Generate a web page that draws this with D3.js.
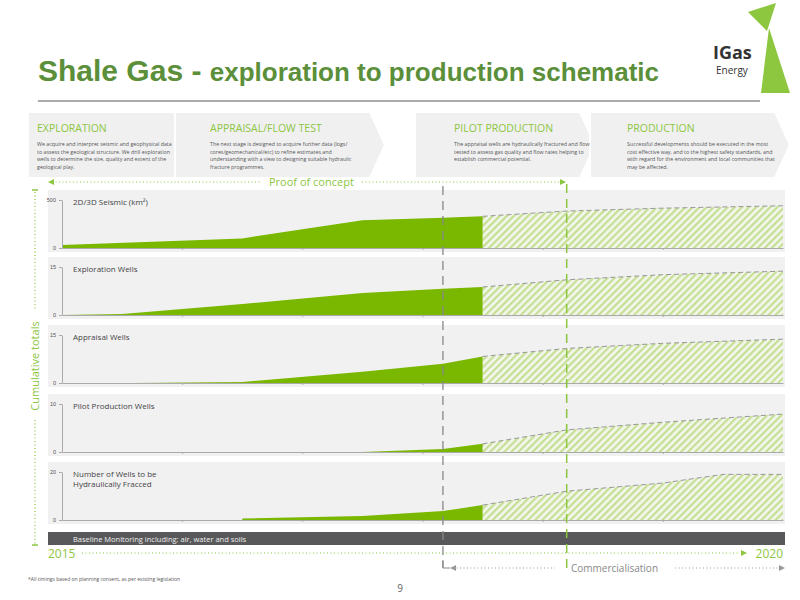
<!DOCTYPE html>
<html>
<head>
<meta charset="utf-8" />
<title>Shale Gas schematic</title>
<style>
  body { margin: 0; background: #fff; }
  svg { font-family: "Open Sans", "DejaVu Sans", sans-serif; }
</style>
</head>
<body>
<svg id="svg" width="800" height="600"></svg>
<script src="https://d3js.org/d3.v7.min.js"></script>
<script>
  // time in years from 2015 (0) to 2020 (6 ticks)
  const panels = ['2D/3D Seismic (km²)', 'Exploration Wells', 'Appraisal Wells', 'Pilot Production Wells', 'Number of Wells to be|Hydraulically Fracced']
  const maxima = [500, 15, 15, 10, 20]
  const actual = [
    [[0, 30], [1.5, 100], [2.5, 290], [3.17, 315], [3.5, 330]],
    [[0, 0], [0.5, 0.3], [1.5, 3.4], [2.5, 6.9], [3.17, 8.2], [3.5, 8.75]],
    [[0, 0], [0.6, 0], [1.5, 0.3], [2.5, 3.5], [3.17, 6], [3.5, 8.3]],
    [[0, 0], [2.5, 0], [3.17, 0.6], [3.5, 1.7]],
    [[1.5, 0], [1.5, 0.6], [2.5, 1.7], [3.17, 3.7], [3.5, 6.2]]
  ]
  const forecast = [
    [[3.5, 330], [4.2, 385], [5, 415], [6, 440]],
    [[3.5, 8.75], [4.2, 11], [5, 12.6], [6, 13.7]],
    [[3.5, 8.3], [4.2, 10.8], [5, 12.4], [6, 13.7]],
    [[3.5, 1.7], [4.2, 4.6], [5, 6.2], [6, 7.9]],
    [[3.5, 6.2], [4.2, 12], [5, 15.4], [5.5, 19], [6, 19]]
  ]
  const stages = ['EXPLORATION', 'APPRAISAL/FLOW TEST', 'PILOT PRODUCTION', 'PRODUCTION']
  const stageText = [
    ['We acquire and interpret seismic and geophysical data', 'to assess the geological structure. We drill exploration', 'wells to determine the size, quality and extent of the', 'geological play.'],
    ['The next stage is designed to acquire further data (logs/', 'cores/geomechanical/etc) to refine estimates and', 'understanding with a view to designing suitable hydraulic', 'fracture programmes.'],
    ['The appraisal wells are hydraulically fractured and flow', 'tested to assess gas quality and flow rates helping to', 'establish commercial potential.'],
    ['Successful developments should be executed in the most', 'cost effective way, and to the highest safety standards, and', 'with regard for the environment and local communities that', 'may be affected.']
  ]

  const green = '#7ab800', lgreen = '#8dc63f'
  const svg = d3.select('#svg')

  const defs = svg.append('defs')
  const pat = defs.append('pattern').attr('id', 'hatch').attr('patternUnits', 'userSpaceOnUse')
    .attr('width', 5).attr('height', 5).attr('patternTransform', 'rotate(45)')
  pat.append('rect').attr('width', 5).attr('height', 5).attr('fill', '#f3f6ea')
  pat.append('rect').attr('width', 2.2).attr('height', 5).attr('fill', '#c5df95')

  // header
  const title = svg.append('text').attr('x', 38).attr('y', 81).attr('fill', '#5b8f3a').attr('font-family', 'Liberation Sans, Arial').attr('font-weight', 'bold')
  title.append('tspan').attr('font-size', 30).text('Shale Gas - ')
  title.append('tspan').attr('font-size', 26).text('exploration to production schematic')
  svg.append('line').attr('x1', 38).attr('x2', 760).attr('y1', 101).attr('y2', 101).attr('stroke', '#aaa').attr('stroke-width', 2)
  svg.append('path').attr('d', 'M748 12 L776 3 L767 31 Z').attr('fill', lgreen)
  svg.append('path').attr('d', 'M769 28 L790 93 L761 93 Z').attr('fill', lgreen)
  svg.append('text').attr('x', 713).attr('y', 59).attr('font-size', 18).attr('font-weight', 'bold').attr('fill', '#333').text('IGas')
  svg.append('text').attr('x', 716).attr('y', 74).attr('font-size', 10).attr('fill', '#333').text('Energy')

  // stage chevrons
  const chev = [[28, 192], [175, 385], [415, 595], [590, 790]]
  chev.forEach((c, i) => {
    svg.append('path').attr('d', `M${c[0]} 112 L${c[1] - 15} 112 L${c[1]} 145 L${c[1] - 15} 178 L${c[0]} 178 Z`)
      .attr('fill', '#f0f0f1').attr('stroke', '#fff').attr('stroke-width', 2)
  })
  const sx = [37, 210, 454, 627]
  stages.forEach((s, i) => {
    svg.append('text').attr('x', sx[i]).attr('y', 132).attr('font-size', 10.5).attr('fill', lgreen).text(s)
    stageText[i].forEach((t, j) => svg.append('text').attr('x', sx[i]).attr('y', 146 + j * 7.5)
      .attr('font-size', 5.3).attr('fill', '#555').text(t))
  })

  const x = d3.scaleLinear().domain([0, 6]).range([62, 783])
  const tops = [190, 257, 325, 394, 462]
  panels.forEach((name, i) => {
    const top = tops[i], base = top + 58
    const y = d3.scaleLinear().domain([0, maxima[i]]).range([base, top + 10])
    svg.append('rect').attr('x', 48).attr('y', top).attr('width', 737).attr('height', 62).attr('fill', '#f1f1f2')
    const area = d3.area().x(d => x(d[0])).y0(base).y1(d => y(d[1]))
    svg.append('path').attr('d', area(forecast[i])).attr('fill', 'url(#hatch)')
    svg.append('path').attr('d', d3.line().x(d => x(d[0])).y(d => y(d[1]))(forecast[i]))
      .attr('fill', 'none').attr('stroke', '#999').attr('stroke-dasharray', '5,3')
    svg.append('path').attr('d', area(actual[i])).attr('fill', green)
    const g = svg.append('g').attr('transform', `translate(0,${base})`)
      .call(d3.axisBottom(x).tickValues([1, 2, 3, 4, 5]).tickSize(2).tickSizeOuter(0).tickFormat(''))
    g.selectAll('path,line').attr('stroke', '#aaa')
    const ga = svg.append('g').attr('transform', 'translate(62,0)')
      .call(d3.axisLeft(y).tickValues([0, maxima[i]]).tickSize(3).tickSizeOuter(0).tickPadding(3))
    ga.selectAll('path,line').attr('stroke', '#aaa')
    ga.selectAll('text').attr('font-size', 5.5).attr('fill', '#555')
    name.split('|').forEach((t, j) => svg.append('text').attr('x', 73).attr('y', top + 15 + j * 10)
      .attr('font-size', 8).attr('fill', '#444').text(t))
  })

  // baseline bar
  svg.append('rect').attr('x', 48).attr('y', 532).attr('width', 737).attr('height', 13).attr('fill', '#58585a')
  svg.append('text').attr('x', 73).attr('y', 542).attr('font-size', 7.5).attr('fill', '#eee').text('Baseline Monitoring including: air, water and soils')

  // verticals
  svg.append('line').attr('x1', x(3.17)).attr('x2', x(3.17)).attr('y1', 186).attr('y2', 568).attr('stroke', '#888').attr('stroke-width', 1.3).attr('stroke-dasharray', '9,6')
  svg.append('line').attr('x1', x(4.2)).attr('x2', x(4.2)).attr('y1', 184).attr('y2', 570).attr('stroke', lgreen).attr('stroke-width', 1.5).attr('stroke-dasharray', '9,6')

  const dotted = (x1, x2, yy, col) => svg.append('line').attr('x1', x1).attr('x2', x2).attr('y1', yy).attr('y2', yy)
    .attr('stroke', col).attr('stroke-width', 1.2).attr('stroke-dasharray', '1,2.5')
  const arrow = (xx, yy, dir, col) => svg.append('path').attr('d', `M${xx} ${yy} l${-dir * 6} -3 l0 6 Z`).attr('fill', col)

  // proof of concept
  dotted(52, 262, 182, lgreen); arrow(48, 182, -1, lgreen)
  dotted(362, 562, 182, lgreen); arrow(566, 182, 1, lgreen)
  svg.append('text').attr('x', 269).attr('y', 186).attr('font-size', 11).attr('fill', lgreen).text('Proof of concept')

  // 2015 - 2020
  dotted(82, 740, 553, lgreen); arrow(747, 553, 1, lgreen)
  svg.append('text').attr('x', 48).attr('y', 558).attr('font-size', 12).attr('fill', lgreen).text('2015')
  svg.append('text').attr('x', 783).attr('y', 558).attr('font-size', 12).attr('text-anchor', 'end').attr('fill', lgreen).text('2020')

  // commercialisation
  svg.append('path').attr('d', `M${x(3.17)} 560 L${x(3.17)} 568 L450 568`).attr('fill', 'none').attr('stroke', '#888')
  dotted(453, 555, 568, '#999'); arrow(450, 568, -1, '#999')
  dotted(675, 780, 568, '#999'); arrow(785, 568, 1, '#999')
  svg.append('text').attr('x', 571).attr('y', 572).attr('font-size', 10).attr('fill', '#888').text('Commercialisation')

  // left vertical label
  svg.append('line').attr('x1', 35).attr('x2', 35).attr('y1', 192).attr('y2', 310).attr('stroke', lgreen).attr('stroke-width', 1.2).attr('stroke-dasharray', '1,2.5')
  svg.append('line').attr('x1', 35).attr('x2', 35).attr('y1', 420).attr('y2', 545).attr('stroke', lgreen).attr('stroke-width', 1.2).attr('stroke-dasharray', '1,2.5')
  svg.append('line').attr('x1', 32).attr('x2', 38).attr('y1', 190).attr('y2', 190).attr('stroke', lgreen).attr('stroke-width', 1.5)
  svg.append('line').attr('x1', 32).attr('x2', 38).attr('y1', 545).attr('y2', 545).attr('stroke', lgreen).attr('stroke-width', 1.5)
  svg.append('text').attr('transform', 'translate(39,366) rotate(-90)').attr('text-anchor', 'middle')
    .attr('font-size', 11).attr('fill', lgreen).text('Cumulative totals')

  svg.append('text').attr('x', 28).attr('y', 581).attr('font-size', 5).attr('fill', '#555').text('*All timings based on planning consent, as per existing legislation')
  svg.append('text').attr('x', 400).attr('y', 592).attr('font-size', 10).attr('text-anchor', 'middle').attr('fill', '#666').text('9')
</script>
</body>
</html>
